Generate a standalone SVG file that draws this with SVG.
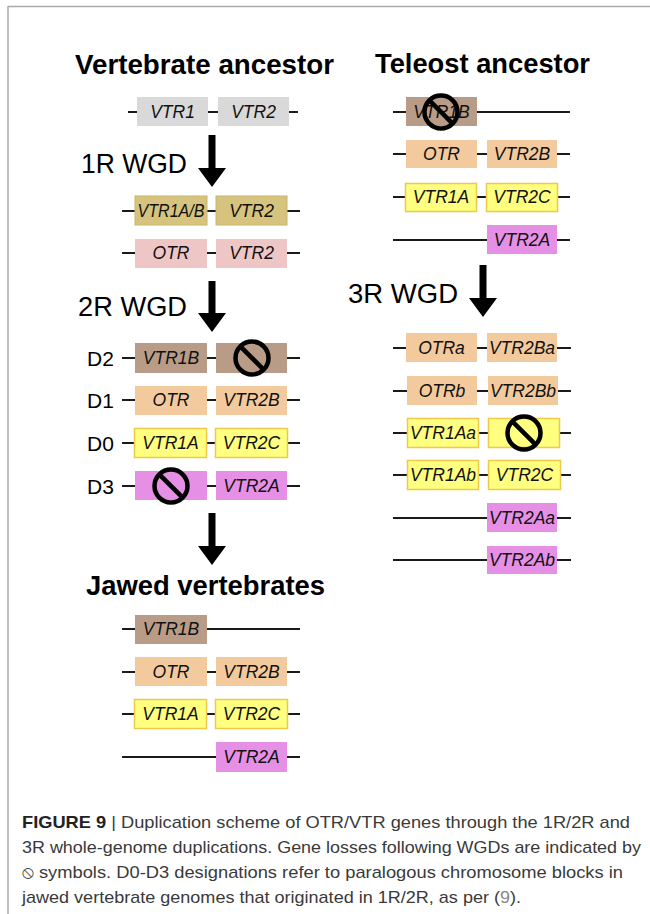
<svg xmlns="http://www.w3.org/2000/svg" width="650" height="914" viewBox="0 0 650 914">
<style>
.title{font-family:"Liberation Sans",Arial,sans-serif;font-weight:bold;font-size:27px;fill:#000}
.wgd{font-family:"Liberation Sans",Arial,sans-serif;font-size:27px;fill:#000}
.dl{font-family:"Liberation Sans",Arial,sans-serif;font-size:21px;fill:#000}
.g{font-family:"Liberation Sans",Arial,sans-serif;font-style:italic;font-size:17.5px;fill:#111;text-anchor:middle}
.chr{stroke:#1a1a1a;stroke-width:2;fill:none}
.gray{fill:#d9d9d9}
.olive{fill:#d5c37e;stroke:#c9b56c;stroke-width:1}
.pink{fill:#efc6c6}
.brown{fill:#b99c87}
.peach{fill:#f2ca9d}
.yellow{fill:#ffff80;stroke:#f0c84a;stroke-width:1.5}
.mag{fill:#e590e5}
.no circle{fill:none;stroke:#000;stroke-width:4.5}
.no line{stroke:#000;stroke-width:4.5}
.cap{font-family:"Liberation Sans",Arial,sans-serif;font-size:17px;fill:#3a3a3a}
</style>
<defs>
<g id="nosym" class="no"><circle cx="0" cy="0" r="16.5"/><line x1="-11.7" y1="-11.7" x2="11.7" y2="11.7"/></g>
</defs>
<g id="frame"><line x1="8" y1="6.5" x2="650" y2="6.5" stroke="#aaa" stroke-width="1.5"/><line x1="8" y1="6" x2="8" y2="914" stroke="#aaa" stroke-width="1.5"/></g>

<g id="titles">
<text class="title" x="75" y="74" textLength="259" lengthAdjust="spacingAndGlyphs">Vertebrate ancestor</text>
<text class="title" x="375" y="73" textLength="215" lengthAdjust="spacingAndGlyphs">Teleost ancestor</text>
<text class="title" x="86" y="595" textLength="239" lengthAdjust="spacingAndGlyphs">Jawed vertebrates</text>
<text class="wgd" x="81" y="173" textLength="106" lengthAdjust="spacingAndGlyphs">1R WGD</text>
<text class="wgd" x="78" y="316" textLength="109" lengthAdjust="spacingAndGlyphs">2R WGD</text>
<text class="wgd" x="348" y="303" textLength="110" lengthAdjust="spacingAndGlyphs">3R WGD</text>
</g>

<g id="connectors">
<path d="M208.5,135 h7 v33 h10.5 l-14,19 l-14,-19 h10.5 z" fill="#000"/>
<path d="M208.5,281 h7 v32 h10.5 l-14,19 l-14,-19 h10.5 z" fill="#000"/>
<path d="M208.5,513 h7 v33 h10.5 l-14,19 l-14,-19 h10.5 z" fill="#000"/>
<path d="M479.5,265 h7 v33 h10.5 l-14,19 l-14,-19 h10.5 z" fill="#000"/>
</g>

<g id="anc">
<line class="chr" x1="128" y1="112" x2="298" y2="112"/>
<rect class="gray" x="137" y="97" width="71" height="29"/><text class="g" x="172.5" y="118">VTR1</text>
<rect class="gray" x="218" y="97" width="71" height="29"/><text class="g" x="253.5" y="118">VTR2</text>
</g>
<g id="r1a">
<line class="chr" x1="122" y1="211" x2="300" y2="211"/>
<rect class="olive" x="135" y="196" width="72" height="29"/><text class="g" x="171" y="217" textLength="67" lengthAdjust="spacingAndGlyphs">VTR1A/B</text>
<rect class="olive" x="216" y="196" width="71" height="29"/><text class="g" x="251.5" y="217">VTR2</text>
</g>
<g id="r1b">
<line class="chr" x1="122" y1="253" x2="300" y2="253"/>
<rect class="pink" x="135" y="239" width="72" height="29"/><text class="g" x="171" y="259">OTR</text>
<rect class="pink" x="216" y="239" width="71" height="29"/><text class="g" x="251.5" y="259">VTR2</text>
</g>
<g id="d2">
<text class="dl" x="87" y="366">D2</text>
<line class="chr" x1="122" y1="358" x2="300" y2="358"/>
<rect class="brown" x="135" y="343" width="72" height="30"/><text class="g" x="171" y="364">VTR1B</text>
<rect class="brown" x="216" y="343" width="71" height="30"/>
<use href="#nosym" x="252" y="358"/>
</g>
<g id="d1">
<text class="dl" x="87" y="408">D1</text>
<line class="chr" x1="122" y1="400" x2="300" y2="400"/>
<rect class="peach" x="135" y="386" width="72" height="29"/><text class="g" x="171" y="406">OTR</text>
<rect class="peach" x="216" y="386" width="71" height="29"/><text class="g" x="251.5" y="406">VTR2B</text>
</g>
<g id="d0">
<text class="dl" x="87" y="451">D0</text>
<line class="chr" x1="122" y1="443" x2="300" y2="443"/>
<rect class="yellow" x="134.5" y="428.5" width="72" height="29"/><text class="g" x="170.5" y="449">VTR1A</text>
<rect class="yellow" x="215.5" y="428.5" width="72" height="29"/><text class="g" x="251.5" y="449">VTR2C</text>
</g>
<g id="d3">
<text class="dl" x="87" y="494">D3</text>
<line class="chr" x1="122" y1="486" x2="300" y2="486"/>
<rect class="mag" x="135" y="471" width="72" height="29"/>
<use href="#nosym" x="171" y="486"/>
<rect class="mag" x="216" y="471" width="71" height="29"/><text class="g" x="251.5" y="492">VTR2A</text>
</g>
<g id="j1">
<line class="chr" x1="122" y1="629" x2="300" y2="629"/>
<rect class="brown" x="135" y="615" width="72" height="29"/><text class="g" x="171" y="635">VTR1B</text>
</g>
<g id="j2">
<line class="chr" x1="122" y1="672" x2="300" y2="672"/>
<rect class="peach" x="135" y="657" width="72" height="29"/><text class="g" x="171" y="678">OTR</text>
<rect class="peach" x="216" y="657" width="71" height="29"/><text class="g" x="251.5" y="678">VTR2B</text>
</g>
<g id="j3">
<line class="chr" x1="122" y1="714" x2="300" y2="714"/>
<rect class="yellow" x="134.5" y="699.5" width="72" height="29"/><text class="g" x="170.5" y="720">VTR1A</text>
<rect class="yellow" x="215.5" y="699.5" width="72" height="29"/><text class="g" x="251.5" y="720">VTR2C</text>
</g>
<g id="j4">
<line class="chr" x1="122" y1="757" x2="300" y2="757"/>
<rect class="mag" x="216" y="742" width="71" height="30"/><text class="g" x="251.5" y="763">VTR2A</text>
</g>

<g id="t1">
<line class="chr" x1="393" y1="112" x2="570" y2="112"/>
<rect class="brown" x="406" y="97" width="71" height="29"/><text class="g" x="441.5" y="118">VTR1B</text>
<use href="#nosym" x="441" y="112"/>
</g>
<g id="t2">
<line class="chr" x1="393" y1="154" x2="570" y2="154"/>
<rect class="peach" x="406" y="140" width="71" height="28"/><text class="g" x="441.5" y="160">OTR</text>
<rect class="peach" x="487" y="140" width="70" height="28"/><text class="g" x="522" y="160">VTR2B</text>
</g>
<g id="t3">
<line class="chr" x1="393" y1="197" x2="570" y2="197"/>
<rect class="yellow" x="405.5" y="183.5" width="71" height="28"/><text class="g" x="441" y="203">VTR1A</text>
<rect class="yellow" x="486.5" y="183.5" width="71" height="28"/><text class="g" x="522" y="203">VTR2C</text>
</g>
<g id="t4">
<line class="chr" x1="393" y1="240" x2="570" y2="240"/>
<rect class="mag" x="487" y="225" width="70" height="29"/><text class="g" x="522" y="246">VTR2A</text>
</g>
<g id="r31">
<line class="chr" x1="393" y1="348" x2="571" y2="348"/>
<rect class="peach" x="406" y="333" width="71" height="29"/><text class="g" x="441.5" y="354">OTRa</text>
<rect class="peach" x="487" y="333" width="70" height="29"/><text class="g" x="522" y="354">VTR2Ba</text>
</g>
<g id="r32">
<line class="chr" x1="393" y1="391" x2="571" y2="391"/>
<rect class="peach" x="407" y="376" width="70" height="29"/><text class="g" x="442" y="397">OTRb</text>
<rect class="peach" x="488" y="376" width="70" height="29"/><text class="g" x="523" y="397">VTR2Bb</text>
</g>
<g id="r33">
<line class="chr" x1="393" y1="433" x2="571" y2="433"/>
<rect class="yellow" x="407.5" y="418.5" width="71" height="29"/><text class="g" x="443" y="439">VTR1Aa</text>
<rect class="yellow" x="488.5" y="418.5" width="71" height="29"/>
<use href="#nosym" x="524" y="433"/>
</g>
<g id="r34">
<line class="chr" x1="393" y1="475" x2="571" y2="475"/>
<rect class="yellow" x="407.5" y="460.5" width="71" height="29"/><text class="g" x="443" y="481">VTR1Ab</text>
<rect class="yellow" x="488.5" y="460.5" width="72" height="29"/><text class="g" x="524.5" y="481">VTR2C</text>
</g>
<g id="r35">
<line class="chr" x1="393" y1="518" x2="571" y2="518"/>
<rect class="mag" x="487" y="503" width="70" height="29"/><text class="g" x="522" y="524">VTR2Aa</text>
</g>
<g id="r36">
<line class="chr" x1="393" y1="560" x2="571" y2="560"/>
<rect class="mag" x="487" y="546" width="70" height="28"/><text class="g" x="522" y="566">VTR2Ab</text>
</g>

<g id="caption">
<text class="cap" x="22" y="828" textLength="608" lengthAdjust="spacingAndGlyphs"><tspan font-weight="bold" fill="#222">FIGURE 9</tspan> | Duplication scheme of OTR/VTR genes through the 1R/2R and</text>
<text class="cap" x="22" y="853" textLength="619" lengthAdjust="spacingAndGlyphs">3R whole-genome duplications. Gene losses following WGDs are indicated by</text>
<text class="cap" x="22" y="878" textLength="601" lengthAdjust="spacingAndGlyphs"><tspan font-family="'DejaVu Sans',sans-serif">⦸</tspan> symbols. D0-D3 designations refer to paralogous chromosome blocks in</text>
<text class="cap" x="22" y="903" textLength="499" lengthAdjust="spacingAndGlyphs">jawed vertebrate genomes that originated in 1R/2R, as per (<tspan fill="#888">9</tspan>).</text>
</g>
</svg>
